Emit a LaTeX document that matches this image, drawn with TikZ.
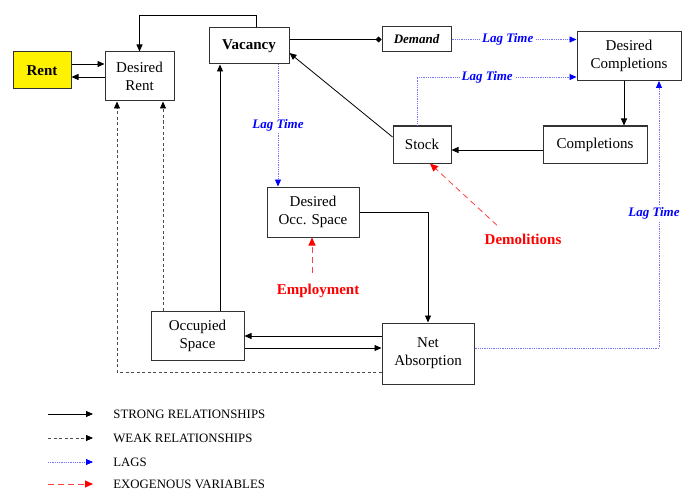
\documentclass[tikz,border=0pt]{standalone}
\usepackage{fontspec}
\setmainfont{Liberation Serif}
\usetikzlibrary{arrows.meta}
\definecolor{rentyellow}{RGB}{255,242,0}
\begin{document}
\begin{tikzpicture}[x=1pt,y=-1pt,line width=.8pt,
 box/.style={draw=black!80,line width=1pt,align=center,inner sep=0pt,font=\fontsize{15}{18}\selectfont},
 strong/.style={black,-{Triangle[length=7pt,width=6pt]}},
 weak/.style={black!70,dash pattern=on 3pt off 2.5pt,-{Triangle[length=7pt,width=6pt,black]}},
 lag/.style={blue!55,densely dotted,-{Triangle[length=7pt,width=6pt,blue]}},
 exo/.style={red!75,dash pattern=on 6pt off 4pt,-{Triangle[length=8pt,width=7pt,red]}},
 lagtxt/.style={fill=white,text=blue,inner sep=2pt,font=\fontsize{13}{15}\selectfont\bfseries\itshape},
 exotxt/.style={text=red,inner sep=0pt,font=\fontsize{15}{17}\selectfont\bfseries}]
 \useasboundingbox (0,0) rectangle (682,492);
 % boxes
 \node[box,fill=rentyellow,minimum width=58pt,minimum height=37pt,font=\fontsize{15}{18}\selectfont\bfseries] (rent) at (42,70.5) {Rent};
 \node[box,minimum width=69pt,minimum height=49pt] (drent) at (139.5,76.5) {Desired\\Rent};
 \node[box,minimum width=80pt,minimum height=36pt,font=\fontsize{15}{18}\selectfont\bfseries] (vac) at (249,46) {Vacancy};
 \node[box,minimum width=69pt,minimum height=25pt,font=\fontsize{13}{15}\selectfont\bfseries\itshape] (dem) at (416.5,39.5) {Demand};
 \node[box,minimum width=104pt,minimum height=49pt] (dcomp) at (629,56) {Desired\\Completions};
 \node[box,minimum width=58pt,minimum height=37pt] (stock) at (422,144.5) {Stock};
 \node[box,minimum width=104pt,minimum height=37pt] (comp) at (595,144.5) {Completions};
 \node[box,minimum width=92pt,minimum height=50pt] (docc) at (313,212) {Desired\\Occ. Space};
 \node[box,minimum width=93pt,minimum height=49pt] (occ) at (197.5,335.5) {Occupied\\Space};
 \node[box,minimum width=92pt,minimum height=61pt] (netab) at (428,353.5) {Net\\Absorption};
 \node[exotxt] (emp) at (318,291) {Employment};
 \node[exotxt] (demo) at (523,239) {Demolitions};
 \coordinate (top) at (139.5,15);
 \coordinate (dc) at ([xshift=-5pt]dcomp.south);
 \coordinate (lc) at ([xshift=30pt]dcomp.south);
 \coordinate (wk) at ([xshift=-22.5pt]drent.south);
 % strong
 \draw[strong] ([yshift=6.5pt]rent.east) -- ([yshift=12.5pt]drent.west);
 \draw[strong] ([yshift=-0.5pt]drent.west) -- ([yshift=-6.5pt]rent.east);
 \draw[strong] ([xshift=7pt]vac.north) |- (top) -- (drent.north);
 \draw[-{Diamond[length=6pt,width=6pt]}] (dem.west -| vac.east) -- (dem.west);
 \draw[strong] ([yshift=7.5pt]stock.west) -- ([yshift=-7pt]vac.east);
 \draw[strong] (dc) -- (dc |- comp.north);
 \draw[strong] ([yshift=-5.5pt]comp.west) -- ([yshift=-5.5pt]stock.east);
 \draw[strong] ([xshift=22.5pt]occ.north) -- ([xshift=-29pt]vac.south);
 \draw[strong] (docc.east) -| (netab.north);
 \draw[strong] ([yshift=17.5pt]netab.west) -- ([yshift=-0.5pt]occ.east);
 \draw[strong] ([yshift=-12.5pt]occ.east) -- ([yshift=5.5pt]netab.west);
 % weak
 \draw[weak] ([xshift=-34.5pt]occ.north) -- ([xshift=23.5pt]drent.south);
 \draw[weak] ([yshift=-18.5pt]netab.west) -| (wk);
 % lags
 \draw[lag] (dem.east) -- (dem.east -| dcomp.west) node[lagtxt,pos=.45] {Lag Time};
 \draw[lag] ([xshift=-5pt]stock.north) |- ([yshift=-21pt]dcomp.west) node[lagtxt,pos=.72] {Lag Time};
 \draw[lag] ([xshift=29pt]vac.south) -- ([xshift=-35pt]docc.north) node[lagtxt,midway] {Lag Time};
 \draw[lag] ([yshift=5.5pt]netab.east) -| (lc) node[lagtxt,pos=.753,xshift=-5pt] {Lag Time};
 % exogenous
 \draw[exo] ([xshift=-6pt,yshift=11pt]emp.north) -- ([xshift=-1pt]docc.south);
 \draw[exo] ([xshift=-26pt,yshift=8pt]demo.north) -- ([xshift=8pt]stock.south);
 % legend
 \foreach \y/\s/\t in {414/strong/STRONG RELATIONSHIPS,438/weak/WEAK RELATIONSHIPS,462/lag/LAGS,484/exo/EXOGENOUS VARIABLES}{
  \draw[\s] (48,\y) -- (93,\y);
  \node[anchor=west,inner sep=0pt,font=\fontsize{12.8}{15}\selectfont] at (113,\y) {\t};}
\end{tikzpicture}
\end{document}
